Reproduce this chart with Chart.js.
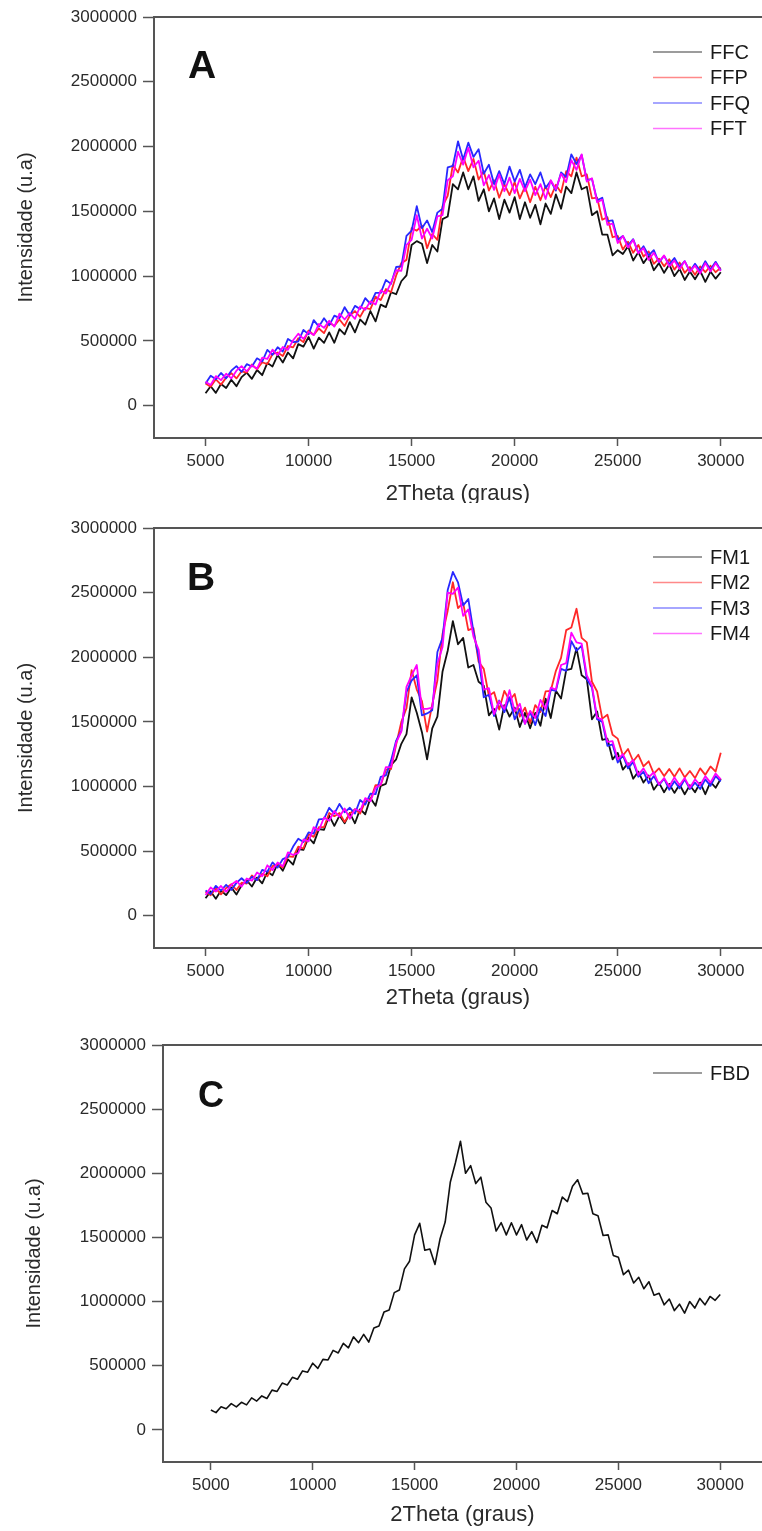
<!DOCTYPE html>
<html>
<head>
<meta charset="utf-8">
<script src="https://cdn.jsdelivr.net/npm/chart.js@4.4.0/dist/chart.umd.min.js"></script>
<style>
  html, body { margin: 0; padding: 0; background: #fff; }
  body { width: 762px; height: 1531px; position: relative; overflow: hidden; }
  .painel { position: absolute; left: 0; width: 762px; overflow: hidden; }
  canvas { display: block; }
</style>
</head>
<body>
<div class="painel" style="top:0;height:503px"><canvas id="graficoA" width="762" height="520"></canvas></div>
<div class="painel" style="top:503px;height:510px"><canvas id="graficoB" width="762" height="510"></canvas></div>
<div class="painel" style="top:1013px;height:518px"><canvas id="graficoC" width="762" height="518"></canvas></div>
<script>
// Eixo x: 2Theta (graus), passo de 250
const twoTheta = [5000, 5250, 5500, 5750, 6000, 6250, 6500, 6750, 7000, 7250,
  7500, 7750, 8000, 8250, 8500, 8750, 9000, 9250, 9500, 9750,
  10000, 10250, 10500, 10750, 11000, 11250, 11500, 11750, 12000, 12250,
  12500, 12750, 13000, 13250, 13500, 13750, 14000, 14250, 14500, 14750,
  15000, 15250, 15500, 15750, 16000, 16250, 16500, 16750, 17000, 17250,
  17500, 17750, 18000, 18250, 18500, 18750, 19000, 19250, 19500, 19750,
  20000, 20250, 20500, 20750, 21000, 21250, 21500, 21750, 22000, 22250,
  22500, 22750, 23000, 23250, 23500, 23750, 24000, 24250, 24500, 24750,
  25000, 25250, 25500, 25750, 26000, 26250, 26500, 26750, 27000, 27250,
  27500, 27750, 28000, 28250, 28500, 28750, 29000, 29250, 29500, 29750,
  30000];

const xTicks = [5000, 10000, 15000, 20000, 25000, 30000];
const yTicks = [0, 500000, 1000000, 1500000, 2000000, 2500000, 3000000];

// Painel A
const ffc = [95000, 150000, 98000, 167000, 136000, 200000, 150000, 220000, 255000, 207000,
  275000, 235000, 330000, 302000, 390000, 333000, 410000, 365000, 475000, 455000,
  530000, 440000, 525000, 485000, 565000, 485000, 590000, 550000, 645000, 565000,
  665000, 625000, 730000, 650000, 780000, 760000, 875000, 860000, 960000, 1005000,
  1240000, 1270000, 1250000, 1100000, 1240000, 1190000, 1440000, 1460000, 1710000, 1670000,
  1800000, 1670000, 1770000, 1580000, 1670000, 1500000, 1600000, 1440000, 1590000, 1490000,
  1610000, 1440000, 1570000, 1450000, 1550000, 1400000, 1560000, 1480000, 1630000, 1520000,
  1690000, 1640000, 1800000, 1670000, 1690000, 1470000, 1500000, 1320000, 1320000, 1160000,
  1200000, 1170000, 1230000, 1120000, 1185000, 1100000, 1155000, 1045000, 1100000, 1025000,
  1090000, 1000000, 1055000, 970000, 1035000, 975000, 1040000, 955000, 1035000, 980000,
  1030000];
const ffp = [170000, 145000, 203000, 162000, 216000, 250000, 210000, 265000, 255000, 317000,
  280000, 335000, 320000, 397000, 410000, 383000, 460000, 450000, 520000, 490000,
  580000, 545000, 595000, 560000, 640000, 615000, 665000, 615000, 695000, 730000,
  685000, 755000, 745000, 840000, 815000, 900000, 875000, 1005000, 1100000, 1125000,
  1370000, 1350000, 1390000, 1215000, 1325000, 1280000, 1540000, 1620000, 1860000, 1800000,
  1920000, 1810000, 1905000, 1745000, 1810000, 1660000, 1740000, 1605000, 1710000, 1625000,
  1725000, 1600000, 1690000, 1570000, 1690000, 1585000, 1695000, 1610000, 1705000, 1645000,
  1810000, 1770000, 1915000, 1770000, 1785000, 1600000, 1605000, 1435000, 1455000, 1300000,
  1310000, 1205000, 1265000, 1180000, 1240000, 1150000, 1190000, 1095000, 1135000, 1075000,
  1130000, 1050000, 1105000, 1025000, 1070000, 1010000, 1075000, 1030000, 1080000, 1030000,
  1065000];
const ffq = [170000, 230000, 203000, 252000, 211000, 270000, 305000, 260000, 320000, 302000,
  365000, 340000, 430000, 392000, 450000, 418000, 515000, 490000, 495000, 585000,
  550000, 660000, 610000, 675000, 620000, 695000, 675000, 760000, 695000, 770000,
  745000, 830000, 785000, 870000, 870000, 970000, 940000, 1070000, 1075000, 1310000,
  1350000, 1540000, 1370000, 1430000, 1340000, 1490000, 1520000, 1840000, 1850000, 2040000,
  1900000, 2030000, 1920000, 1980000, 1790000, 1860000, 1710000, 1810000, 1710000, 1845000,
  1730000, 1820000, 1685000, 1785000, 1710000, 1800000, 1680000, 1735000, 1660000, 1800000,
  1765000, 1940000, 1865000, 1935000, 1740000, 1750000, 1585000, 1605000, 1425000, 1430000,
  1280000, 1310000, 1235000, 1285000, 1180000, 1230000, 1160000, 1200000, 1105000, 1155000,
  1090000, 1140000, 1070000, 1115000, 1035000, 1095000, 1040000, 1115000, 1050000, 1110000,
  1045000];
const fft = [185000, 160000, 228000, 197000, 246000, 210000, 270000, 305000, 265000, 312000,
  285000, 370000, 360000, 432000, 390000, 453000, 430000, 505000, 555000, 515000,
  570000, 545000, 630000, 600000, 655000, 610000, 710000, 665000, 715000, 670000,
  765000, 740000, 805000, 780000, 890000, 865000, 950000, 1045000, 1040000, 1240000,
  1280000, 1470000, 1290000, 1365000, 1290000, 1460000, 1470000, 1740000, 1770000, 1960000,
  1860000, 1990000, 1840000, 1890000, 1700000, 1780000, 1665000, 1785000, 1655000, 1760000,
  1640000, 1750000, 1655000, 1745000, 1625000, 1710000, 1595000, 1740000, 1670000, 1790000,
  1725000, 1895000, 1820000, 1940000, 1730000, 1755000, 1570000, 1590000, 1395000, 1405000,
  1255000, 1310000, 1220000, 1280000, 1175000, 1215000, 1125000, 1180000, 1110000, 1160000,
  1075000, 1120000, 1055000, 1115000, 1035000, 1080000, 1020000, 1100000, 1035000, 1100000,
  1040000];

// Painel B
const fm1 = [135000, 188000, 131000, 195000, 159000, 219000, 164000, 235000, 273000, 226000,
  295000, 250000, 340000, 313000, 402000, 348000, 435000, 395000, 515000, 510000,
  605000, 560000, 670000, 665000, 775000, 695000, 775000, 715000, 795000, 715000,
  825000, 785000, 910000, 850000, 1005000, 1020000, 1165000, 1210000, 1330000, 1405000,
  1690000, 1570000, 1420000, 1210000, 1450000, 1540000, 1890000, 2050000, 2280000, 2100000,
  2150000, 1920000, 1940000, 1810000, 1780000, 1550000, 1600000, 1440000, 1630000, 1540000,
  1610000, 1460000, 1570000, 1450000, 1570000, 1470000, 1680000, 1530000, 1740000, 1680000,
  1900000, 1910000, 2070000, 1860000, 1830000, 1520000, 1580000, 1360000, 1370000, 1210000,
  1260000, 1130000, 1180000, 1060000, 1115000, 1030000, 1085000, 975000, 1030000, 955000,
  1020000, 950000, 1015000, 940000, 1010000, 955000, 1030000, 940000, 1035000, 990000,
  1060000];
const fm2 = [185000, 158000, 211000, 165000, 214000, 244000, 199000, 255000, 248000, 311000,
  275000, 325000, 305000, 383000, 397000, 373000, 460000, 455000, 535000, 520000,
  630000, 610000, 685000, 685000, 795000, 770000, 795000, 725000, 790000, 825000,
  790000, 885000, 895000, 1010000, 1010000, 1130000, 1135000, 1325000, 1500000, 1605000,
  1900000, 1750000, 1660000, 1425000, 1635000, 1820000, 2180000, 2360000, 2580000, 2380000,
  2420000, 2210000, 2225000, 1965000, 1910000, 1700000, 1730000, 1595000, 1740000, 1665000,
  1715000, 1540000, 1610000, 1490000, 1630000, 1575000, 1735000, 1740000, 1895000, 1995000,
  2210000, 2230000, 2375000, 2150000, 2115000, 1810000, 1735000, 1525000, 1555000, 1400000,
  1370000, 1240000, 1290000, 1195000, 1245000, 1155000, 1195000, 1100000, 1140000, 1080000,
  1135000, 1075000, 1140000, 1070000, 1120000, 1065000, 1140000, 1090000, 1155000, 1115000,
  1260000];
const fm3 = [195000, 168000, 231000, 195000, 239000, 199000, 254000, 290000, 253000, 301000,
  275000, 355000, 340000, 413000, 372000, 438000, 455000, 535000, 595000, 570000,
  645000, 635000, 745000, 750000, 835000, 790000, 865000, 800000, 835000, 790000,
  895000, 860000, 945000, 940000, 1075000, 1085000, 1200000, 1355000, 1430000, 1730000,
  1820000, 1860000, 1550000, 1565000, 1590000, 2040000, 2150000, 2520000, 2660000, 2580000,
  2400000, 2450000, 2200000, 2000000, 1690000, 1710000, 1545000, 1665000, 1575000, 1690000,
  1520000, 1600000, 1485000, 1575000, 1475000, 1610000, 1545000, 1750000, 1740000, 1910000,
  1895000, 2125000, 2050000, 2090000, 1830000, 1765000, 1520000, 1500000, 1315000, 1325000,
  1185000, 1240000, 1140000, 1190000, 1075000, 1115000, 1025000, 1080000, 1010000, 1060000,
  975000, 1040000, 985000, 1055000, 980000, 1030000, 980000, 1055000, 1005000, 1080000,
  1040000];
const fm4 = [160000, 218000, 186000, 230000, 184000, 239000, 269000, 225000, 288000, 271000,
  335000, 305000, 390000, 353000, 412000, 383000, 490000, 470000, 485000, 590000,
  575000, 685000, 660000, 760000, 735000, 810000, 765000, 830000, 750000, 825000,
  810000, 910000, 885000, 990000, 1015000, 1150000, 1150000, 1340000, 1425000, 1770000,
  1860000, 1940000, 1600000, 1600000, 1610000, 1950000, 2080000, 2500000, 2490000, 2540000,
  2320000, 2370000, 2160000, 2060000, 1750000, 1760000, 1560000, 1660000, 1600000, 1745000,
  1580000, 1640000, 1485000, 1585000, 1530000, 1670000, 1600000, 1765000, 1750000, 1940000,
  1955000, 2190000, 2115000, 2105000, 1860000, 1780000, 1535000, 1515000, 1345000, 1350000,
  1210000, 1250000, 1165000, 1205000, 1090000, 1140000, 1070000, 1110000, 1015000, 1065000,
  1000000, 1070000, 1010000, 1065000, 990000, 1055000, 1010000, 1080000, 1030000, 1100000,
  1055000];

// Painel C
const fbd = [155000, 135000, 180000, 165000, 205000, 180000, 215000, 195000, 250000, 225000,
  265000, 245000, 310000, 300000, 365000, 350000, 410000, 395000, 460000, 450000,
  520000, 480000, 550000, 545000, 620000, 600000, 675000, 640000, 725000, 680000,
  745000, 685000, 795000, 810000, 920000, 935000, 1070000, 1090000, 1255000, 1315000,
  1520000, 1610000, 1400000, 1410000, 1290000, 1490000, 1620000, 1930000, 2080000, 2250000,
  2000000, 2060000, 1920000, 1970000, 1775000, 1730000, 1550000, 1615000, 1520000, 1615000,
  1520000, 1600000, 1480000, 1545000, 1460000, 1595000, 1575000, 1710000, 1685000, 1815000,
  1780000, 1900000, 1950000, 1840000, 1845000, 1685000, 1670000, 1515000, 1520000, 1360000,
  1345000, 1210000, 1245000, 1145000, 1190000, 1100000, 1155000, 1050000, 1065000, 975000,
  1020000, 930000, 980000, 910000, 1000000, 950000, 1025000, 975000, 1040000, 1010000,
  1055000];

const PRETO = '#111111';
const VERMELHO = 'rgb(255, 40, 40)';
const AZUL = 'rgb(40, 40, 255)';
const MAGENTA = 'rgb(255, 0, 255)';
const FONTE = 'Liberation Sans';

Chart.defaults.font.family = FONTE;

function serie(label, valores, cor, ordem, espessura) {
    return {
        label: label,
        data: twoTheta.map((x, i) => ({ x: x, y: valores[i] })),
        borderColor: cor,
        borderWidth: espessura,
        borderJoinStyle: 'round',
        pointRadius: 0,
        tension: 0,
        fill: false,
        order: ordem,
    };
}

// desenha borda superior, letra do painel e legenda
const enfeites = {
    id: 'enfeites',
    afterDraw(chart, args, opts) {
        const { ctx, chartArea } = chart;
        ctx.save();
        ctx.strokeStyle = '#555';
        ctx.lineWidth = 2;
        ctx.beginPath();
        ctx.moveTo(chartArea.left - 1, chartArea.top);
        ctx.lineTo(chartArea.right, chartArea.top);
        ctx.stroke();

        ctx.fillStyle = '#111';
        ctx.font = 'bold ' + opts.letraTam + 'px "' + FONTE + '"';
        ctx.textBaseline = 'alphabetic';
        ctx.fillText(opts.letra, opts.letraX, opts.letraY);

        ctx.font = '20px "' + FONTE + '"';
        ctx.textBaseline = 'middle';
        chart.data.datasets.forEach((ds, i) => {
            const y = chartArea.top + opts.legendaTopo + i * 25.5;
            ctx.globalAlpha = 0.55;
            ctx.strokeStyle = ds.borderColor;
            ctx.lineWidth = 1.3;
            ctx.beginPath();
            ctx.moveTo(653, y);
            ctx.lineTo(702, y);
            ctx.stroke();
            ctx.globalAlpha = 1;
            ctx.fillStyle = '#1a1a1a';
            ctx.fillText(ds.label, 710, y + 1);
        });
        ctx.restore();
    }
};

function criarGrafico(id, datasets, cfg) {
    const ctx = document.getElementById(id).getContext('2d');
    return new Chart(ctx, {
        type: 'line',
        data: { datasets: datasets },
        options: {
            responsive: false,
            animation: false,
            events: [],
            layout: { padding: { top: cfg.topo, left: 0, right: 0, bottom: 0 } },
            plugins: {
                legend: { display: false },
                tooltip: { enabled: false },
                enfeites: cfg.enfeites,
            },
            scales: {
                x: {
                    type: 'linear',
                    min: cfg.xMin,
                    max: cfg.xMax,
                    afterBuildTicks: s => { s.ticks = xTicks.map(v => ({ value: v })); },
                    afterFit: s => { s.height = cfg.alturaX; },
                    ticks: {
                        callback: v => String(v),
                        font: { size: 17 },
                        color: '#2a2a2a',
                        padding: 5,
                        maxRotation: 0,
                        autoSkip: false,
                    },
                    grid: { drawOnChartArea: false, tickLength: 8, tickColor: '#555', tickWidth: 1.5 },
                    border: { color: '#555', width: 2 },
                    title: {
                        display: true,
                        text: '2Theta (graus)',
                        font: { size: 22 },
                        color: '#2a2a2a',
                        padding: { top: 0, bottom: cfg.padTituloX },
                    },
                },
                y: {
                    type: 'linear',
                    min: -250000,
                    max: 3000000,
                    afterBuildTicks: s => { s.ticks = yTicks.map(v => ({ value: v })); },
                    afterFit: s => { s.width = cfg.larguraY; },
                    ticks: {
                        callback: v => String(v),
                        font: { size: 17 },
                        color: '#2a2a2a',
                        padding: 6,
                    },
                    grid: { drawOnChartArea: false, tickLength: 11, tickColor: '#555', tickWidth: 1.5 },
                    border: { color: '#555', width: 2 },
                    title: {
                        display: true,
                        text: 'Intensidade (u.a)',
                        font: { size: 20 },
                        color: '#2a2a2a',
                        padding: { top: cfg.padTituloY, bottom: 0 },
                    },
                },
            },
        },
        plugins: [enfeites],
    });
}

criarGrafico('graficoA', [
    serie('FFC', ffc, PRETO, 3, 1.8),
    serie('FFP', ffp, VERMELHO, 2, 1.8),
    serie('FFQ', ffq, AZUL, 1, 1.8),
    serie('FFT', fft, MAGENTA, 0, 1.8),
], {
    topo: 17, alturaX: 82, larguraY: 154, xMin: 2500, xMax: 32000,
    padTituloX: 13, padTituloY: 14,
    enfeites: { letra: 'A', letraTam: 39, letraX: 188, letraY: 78, legendaTopo: 35 },
});

criarGrafico('graficoB', [
    serie('FM1', fm1, PRETO, 3, 1.8),
    serie('FM2', fm2, VERMELHO, 2, 1.8),
    serie('FM3', fm3, AZUL, 1, 1.8),
    serie('FM4', fm4, MAGENTA, 0, 1.8),
], {
    topo: 25, alturaX: 65, larguraY: 154, xMin: 2500, xMax: 32000,
    padTituloX: 2, padTituloY: 14,
    enfeites: { letra: 'B', letraTam: 39, letraX: 187, letraY: 87, legendaTopo: 29 },
});

criarGrafico('graficoC', [
    serie('FBD', fbd, PRETO, 0, 1.6),
], {
    topo: 32, alturaX: 69, larguraY: 163, xMin: 2650, xMax: 32050,
    padTituloX: 3, padTituloY: 22,
    enfeites: { letra: 'C', letraTam: 36, letraX: 198, letraY: 94, legendaTopo: 28 },
});
</script>
</body>
</html>
